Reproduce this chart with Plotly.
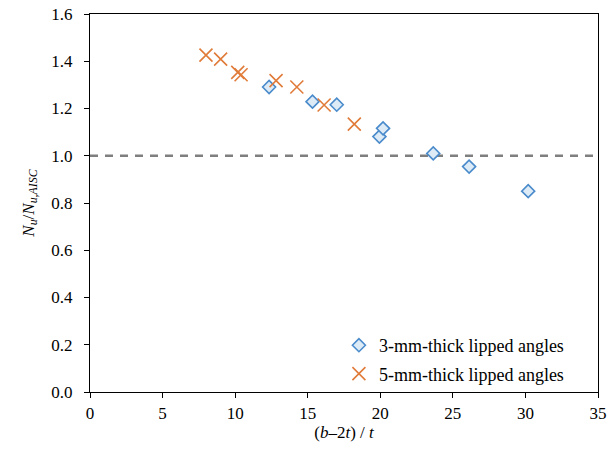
import plotly.graph_objects as go

# 3-mm-thick lipped angles
x3 = [12.34, 15.33, 17.0, 19.94, 20.19, 23.65, 26.12, 30.19]
y3 = [1.291, 1.229, 1.216, 1.081, 1.116, 1.010, 0.954, 0.850]

# 5-mm-thick lipped angles
x5 = [7.99, 9.0, 10.18, 10.41, 12.82, 14.25, 16.13, 18.21]
y5 = [1.426, 1.409, 1.353, 1.343, 1.318, 1.291, 1.215, 1.134]

ref_x = [0, 35]
ref_y = [1.0, 1.0]

FONT = "Liberation Serif"

fig = go.Figure()
fig.add_trace(go.Scatter(x=ref_x, y=ref_y, mode="lines",
                         line=dict(color="#7f7f7f", width=2.5, dash="8px,7px"),
                         showlegend=False, hoverinfo="skip"))
fig.add_trace(go.Scatter(x=x3, y=y3, mode="markers", name="3-mm-thick lipped angles",
                         legendgroup="a",
                         marker=dict(symbol="diamond", size=10, color="#DDEBF7",
                                     line=dict(color="#4A8BCB", width=1.6))))
fig.add_trace(go.Scatter(x=x5, y=y5, mode="markers", name="5-mm-thick lipped angles",
                         legendgroup="b",
                         marker=dict(symbol="x-thin", size=13,
                                     line=dict(color="#E07B39", width=1.6))))

axis_common = dict(showline=True, linecolor="black", linewidth=1.3, mirror=True,
                   ticks="outside", ticklen=5, tickcolor="black", showgrid=False,
                   zeroline=False, automargin=False,
                   tickfont=dict(family=FONT, size=17, color="black"))

fig.update_layout(
    template="none",
    width=608, height=451,
    margin=dict(l=90, r=10, t=14, b=59, autoexpand=False),
    paper_bgcolor="white", plot_bgcolor="white",
    font=dict(family=FONT, size=17, color="black"),
    xaxis=dict(range=[0, 35], dtick=5, tick0=0,
               title=dict(text="(<i>b</i>–2<i>t</i>) / <i>t</i>", font=dict(family=FONT, size=17), standoff=2),
               **axis_common),
    yaxis=dict(range=[0, 1.6], dtick=0.2, tick0=0, tickformat=".1f",
               ticklabelstandoff=8,
               title=dict(text="<i>N<sub>u</sub></i>/<i>N<sub>u,AISC</sub></i>", font=dict(family=FONT, size=17), standoff=12),
               **axis_common),
    legend=dict(x=0.49, y=0.0, xanchor="left", yanchor="bottom",
                bgcolor="rgba(0,0,0,0)", font=dict(family=FONT, size=18),
                itemwidth=30, tracegroupgap=2),
)

fig.write_html("out.html")
